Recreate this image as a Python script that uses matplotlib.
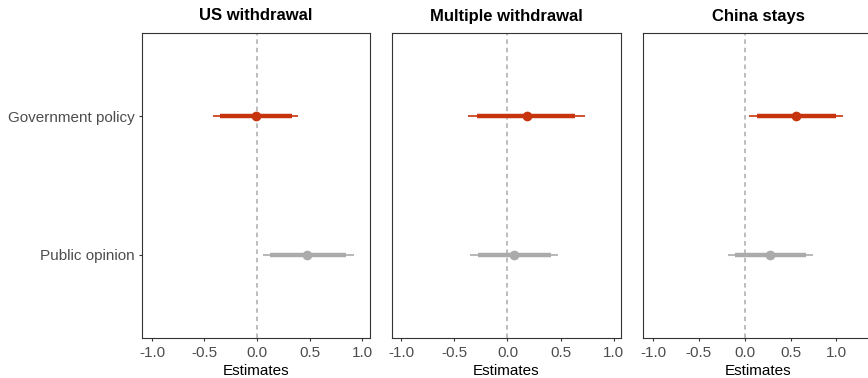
import matplotlib
matplotlib.use("Agg")
import matplotlib.pyplot as plt

plt.rcParams['font.family'] = ['Liberation Sans', 'DejaVu Sans']

panels = ['US withdrawal', 'Multiple withdrawal', 'China stays']
terms = ['Government policy', 'Public opinion']

# point estimates, inner (thick) and outer (thin) intervals per panel, per term
estimates = [[-0.01, 0.48], [0.18, 0.06], [0.56, 0.28]]
inner_lo = [[-0.35, 0.12], [-0.29, -0.28], [0.13, -0.11]]
inner_hi = [[0.33, 0.85], [0.64, 0.41], [1.00, 0.67]]
outer_lo = [[-0.42, 0.06], [-0.37, -0.35], [0.05, -0.18]]
outer_hi = [[0.39, 0.92], [0.73, 0.48], [1.07, 0.75]]

xlims = [(-1.095, 1.076), (-1.088, 1.07), (-1.11, 1.40)]
term_colors = ['#C7350F', '#ABABAB']
ypos = [2, 1]

W, H = 868, 378
fig = plt.figure(figsize=(W / 100, H / 100), dpi=100)

lefts = [142, 392, 643]
widths = [228, 229, 230]
top, bottom = 33, 338

for i, name in enumerate(panels):
    ax = fig.add_axes([lefts[i] / W, (H - bottom) / H, widths[i] / W, (bottom - top) / H])
    ax.axvline(0, color='#ABABAB', lw=1.1, ls=(0, (3, 2.5)), zorder=1)
    for j, term in enumerate(terms):
        c = term_colors[j]
        y = ypos[j]
        ax.plot([outer_lo[i][j], outer_hi[i][j]], [y, y], color=c, lw=1.2,
                solid_capstyle='butt', zorder=2)
        ax.plot([inner_lo[i][j], inner_hi[i][j]], [y, y], color=c, lw=3.2,
                solid_capstyle='butt', zorder=3)
        ax.plot(estimates[i][j], y, 'o', color=c, ms=7, mec='none', zorder=4)

    ax.set_xlim(*xlims[i])
    ax.set_ylim(0.4, 2.6)
    ax.set_xticks([-1.0, -0.5, 0.0, 0.5, 1.0])
    ax.set_xticklabels(['-1.0', '-0.5', '0.0', '0.5', '1.0'])
    ax.tick_params(axis='x', length=2.5, width=0.8, color='#333333',
                   labelsize=11, labelcolor='#4D4D4D', pad=3)
    if i == 0:
        ax.set_yticks(ypos)
        ax.set_yticklabels(terms)
        ax.tick_params(axis='y', length=2.5, width=0.8, color='#333333',
                       labelsize=11, labelcolor='#4D4D4D', pad=3)
    else:
        ax.set_yticks([])
    for sp in ax.spines.values():
        sp.set_color('#333333')
        sp.set_linewidth(0.8)
    ax.set_xlabel('Estimates', fontsize=11, color='black', labelpad=3)
    ax.set_title(name, fontsize=12, fontweight='bold', pad=9)

fig.savefig('out.png', dpi=100)
